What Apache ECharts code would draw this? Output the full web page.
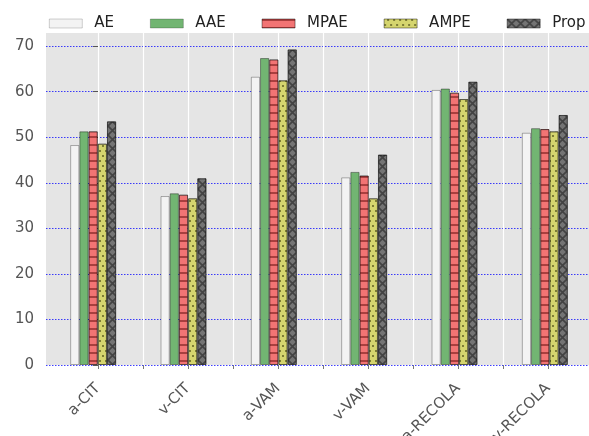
<!DOCTYPE html>
<html>
<head>
<meta charset="utf-8">
<script src="https://cdn.jsdelivr.net/npm/echarts@6/dist/echarts.min.js"></script>
<style>
  html, body { margin: 0; padding: 0; background: #ffffff; }
  #chart { width: 589px; height: 436px; }
</style>
</head>
<body>
<div id="chart"></div>
<script>
// Datasets (x axis) and per-method scores
const categories = ['a-CIT', 'v-CIT', 'a-VAM', 'v-VAM', 'a-RECOLA', 'v-RECOLA'];
const seriesNames = ['AE', 'AAE', 'MPAE', 'AMPE', 'Prop'];
const aeValues   = [48.3, 37.1, 63.3, 41.2, 60.4, 51.0];
const aaeValues  = [51.3, 37.7, 67.4, 42.4, 60.7, 52.0];
const mpaeValues = [51.3, 37.4, 67.1, 41.6, 59.8, 51.8];
const ampeValues = [48.6, 36.6, 62.5, 36.6, 58.4, 51.3];
const propValues = [53.5, 41.0, 69.3, 46.2, 62.2, 54.9];
const yTicks = [0, 10, 20, 30, 40, 50, 60, 70];
const xTicks = [0, 0.5, 1, 1.5, 2, 2.5, 3, 3.5, 4, 4.5, 5];
const xLabelPos = [0, 1, 2, 3, 4, 5];

const FONT = 'DejaVu Sans';
const Y_MAX = 72.9;
const edge = 'rgba(0,0,0,0.38)';

const styles = [
  { color: '#f3f3f3', borderColor: 'rgba(0,0,0,0.3)' },
  { color: '#72b572', borderColor: edge },
  { color: '#f27474', borderColor: edge,
    decal: { symbol: 'rect', symbolSize: 1, dashArrayX: [1, 0], dashArrayY: [1.4, 5.3],
             color: 'rgba(110,20,20,0.55)', backgroundColor: null } },
  { color: '#d5d56e', borderColor: edge,
    decal: { symbol: 'circle', symbolSize: 0.9, dashArrayX: [[2, 4], [0, 3, 2, 1]], dashArrayY: [2, 3],
             color: 'rgba(40,40,0,0.75)', backgroundColor: null } },
  { color: '#747474', borderColor: edge,
    decal: { symbol: 'path://M0,0L1.2,0L9,7.8L9,9L7.8,9L0,1.2ZM7.8,0L9,0L9,1.2L1.2,9L0,9L0,7.8Z',
             symbolSize: 1, symbolKeepAspect: false, dashArrayX: [9, 0], dashArrayY: [9, 0],
             color: 'rgba(0,0,0,0.42)', backgroundColor: null } }
];
const valueLists = [aeValues, aaeValues, mpaeValues, ampeValues, propValues];

const series = seriesNames.map((name, i) => ({
  name: name,
  type: 'bar',
  xAxisIndex: 1,
  yAxisIndex: 1,
  data: valueLists[i],
  barWidth: 9.2,
  barGap: '0%',
  itemStyle: Object.assign({ borderWidth: 1 }, styles[i]),
  emphasis: { disabled: true }
}));

const chart = echarts.init(document.getElementById('chart'), null, { renderer: 'canvas' });
chart.setOption({
  animation: false,
  backgroundColor: '#ffffff',
  aria: { enabled: false },
  legend: {
    data: seriesNames,
    left: 44,
    top: 11,
    width: 700,
    icon: 'rect',
    itemWidth: 33,
    itemHeight: 9,
    itemGap: 36,
    itemStyle: { borderWidth: 0.6 },
    textStyle: { fontFamily: FONT, fontSize: 15, color: '#222', padding: [0, 0, 0, 7] }
  },
  grid: [
    { left: 46, top: 33, width: 545, height: 332, show: true, backgroundColor: '#e5e5e5',
      borderWidth: 0, outerBoundsMode: 'none', containLabel: false },
    { left: 48, top: 33, width: 542, height: 332, show: false, outerBoundsMode: 'none', containLabel: false }
  ],
  xAxis: [
    {
      gridIndex: 0, type: 'value', min: -0.578, max: 5.478,
      axisLine: { show: false },
      axisTick: { show: true, customValues: xTicks, length: 4, lineStyle: { color: '#777' } },
      splitLine: { show: true, lineStyle: { color: '#ffffff', width: 1.2 } },
      axisLabel: {
        customValues: xLabelPos, rotate: 45, margin: 21,
        fontFamily: FONT, fontSize: 15, color: '#555',
        formatter: v => categories[Math.round(v)]
      }
    },
    {
      gridIndex: 1, type: 'category', data: categories, boundaryGap: true,
      axisLine: { show: false }, axisTick: { show: false }, axisLabel: { show: false }, splitLine: { show: false }
    }
  ],
  yAxis: [
    {
      gridIndex: 0, type: 'value', min: 0, max: Y_MAX,
      axisLine: { show: false },
      axisTick: { show: true, customValues: yTicks, length: 5, lineStyle: { color: '#555' } },
      axisLabel: { customValues: yTicks, margin: 12, fontFamily: FONT, fontSize: 15, color: '#555' },
      splitLine: { show: true, lineStyle: { color: 'rgba(0,0,255,0.75)', type: [1.5, 1.5], width: 1 } }
    },
    {
      gridIndex: 1, type: 'value', min: 0, max: Y_MAX, show: false, splitLine: { show: false }
    }
  ],
  series: series
});
</script>
</body>
</html>
